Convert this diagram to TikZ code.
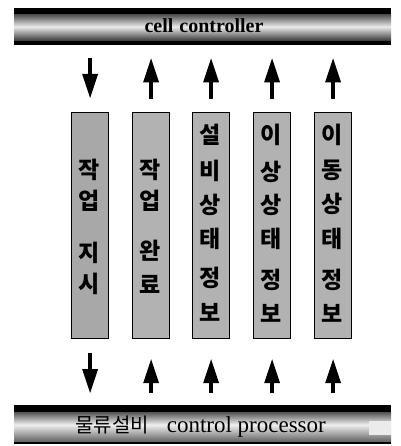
\documentclass[tikz,border=0pt]{standalone}
\usepackage{fontspec}
\setmainfont{Liberation Serif}
\newfontfamily\kr{Noto Sans CJK KR}
\usetikzlibrary{calc}
\begin{document}
\begin{tikzpicture}[x=1pt,y=-1pt,
  colbar/.style={draw=black, line width=1.2pt, fill=black!30, minimum width=37pt,
    minimum height=226pt, inner sep=0pt, anchor=north west},
  hbar/.style={fill=black, minimum width=377pt, inner sep=0pt, anchor=north west},
  shaft/.style={line width=3.4pt},
  headup/.pic={\fill[black] (0,0) -- (-8,24) -- (8,24) -- cycle;},
  headdown/.pic={\fill[black] (0,0) -- (-8,-24) -- (8,-24) -- cycle;},
  ch/.style={font=\kr\bfseries\fontsize{23}{23}\selectfont, inner sep=0pt, text=black}
]
\useasboundingbox (0,0) rectangle (400,446);
% top bar
\node[hbar, minimum height=37pt,
  path picture={\shade[top color=black, bottom color=black, middle color=black!8]
    ([yshift=-6pt]path picture bounding box.north west) rectangle
    ([yshift=5pt]path picture bounding box.south east);}]
  (cc) at (14,8) {};
\node[font=\bfseries\fontsize{20}{20}\selectfont] (cct) at (204,26) {cell\hspace{6pt}controller};
% bottom bar
\node[hbar, minimum height=39pt,
  path picture={\shade[top color=black, bottom color=black!70, middle color=black!6]
    ([yshift=-7pt]path picture bounding box.north west) rectangle
    ([yshift=3pt]path picture bounding box.south east);
    \fill[black!8] ([xshift=-22pt,yshift=-16pt]path picture bounding box.north east) rectangle
    ([yshift=-30pt]path picture bounding box.north east);}]
  (cp) at (14,405) {};
\node[anchor=base west, inner sep=0pt] (cpt) at (75,432)
  {{\kr\fontsize{20}{20}\selectfont 물류설비}\hspace{18pt}{\fontsize{23}{23}\selectfont control processor}};
% columns
\node[colbar, fill=black!34] (c1) at (71,112) {};
\node[colbar] (c2) at (132,112) {};
\node[colbar] (c3) at (192,112) {};
\node[colbar] (c4) at (253,112) {};
\node[colbar] (c5) at (314,112) {};
% texts
\foreach \t/\y [count=\i] in {작/170,업/201,지/253,시/284}
  \node[ch] (a\i) at (89.5,\y) {\t};
\foreach \t/\y [count=\i] in {작/170,업/201,완/251,료/284}
  \node[ch] (b\i) at (150.5,\y) {\t};
\foreach \t/\y [count=\i] in {설/135,비/171,상/205,태/239,정/278,보/312}
  \node[ch] (d\i) at (210.5,\y) {\t};
\foreach \t/\y [count=\i] in {이/135,상/172,상/205,태/239,정/280,보/313}
  \node[ch] (e\i) at (271.5,\y) {\t};
\foreach \t/\y [count=\i] in {이/135,동/170,상/204,태/239,정/280,보/313}
  \node[ch] (f\i) at (332.5,\y) {\t};
% top arrows
\coordinate (t1) at ($(c1.north)+(0,-14)$);
\draw[shaft, shorten <=13pt, shorten >=20pt] (cc.south -| c1) -- (t1);
\pic at (t1) {headdown};
\foreach \c in {c2,c3,c4,c5}{
  \coordinate (t\c) at ($(cc.south -| \c)+(0,13)$);
  \draw[shaft, shorten <=13pt, shorten >=20pt] (\c.north) -- (t\c);
  \pic at (t\c) {headup};
}
% bottom arrows
\coordinate (b1) at ($(cp.north -| c1)+(0,-12)$);
\draw[shaft, shorten <=14pt, shorten >=20pt] (c1.south) -- (b1);
\pic at (b1) {headdown};
\foreach \c in {c2,c3,c4,c5}{
  \coordinate (b\c) at ($(\c.south)+(0,20)$);
  \draw[shaft, shorten <=12pt, shorten >=20pt] (cp.north -| \c) -- (b\c);
  \pic at (b\c) {headup};
}
\end{tikzpicture}
\end{document}
